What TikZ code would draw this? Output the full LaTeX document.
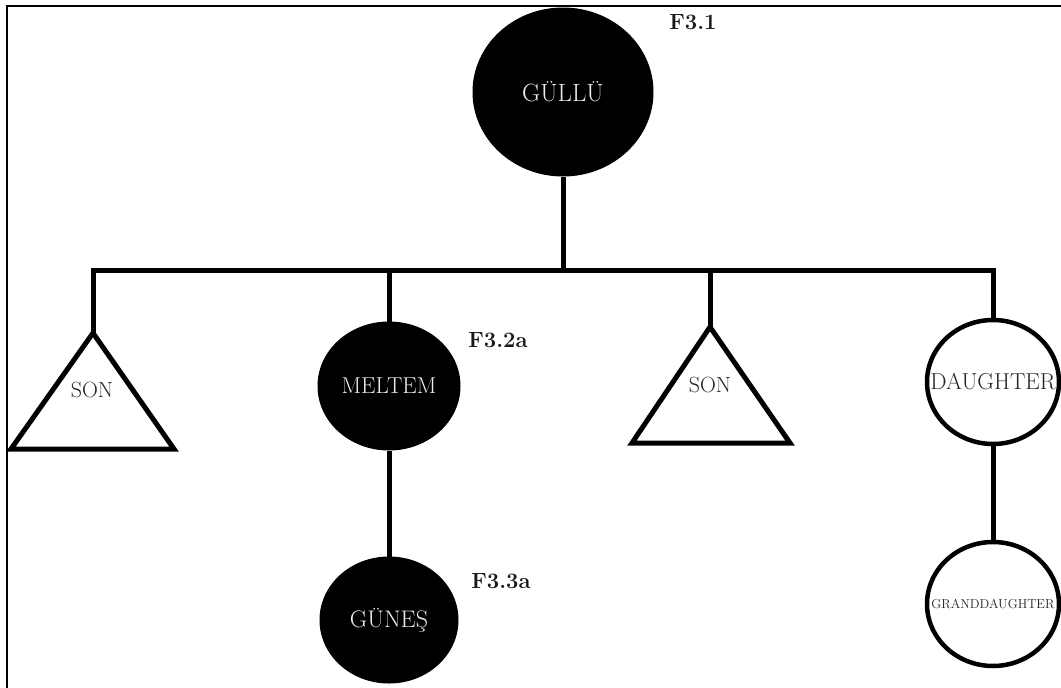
\documentclass[tikz,border=0pt]{standalone}
\usetikzlibrary{calc,shapes.geometric}
\begin{document}
\begin{tikzpicture}[x=1pt,y=-1pt,
  line width=5pt,
  filledp/.style={ellipse,fill=black,draw=black,line width=1pt,inner sep=0pt},
  openp/.style={ellipse,fill=white,draw=black,line width=4.5pt,inner sep=0pt},
  wlabel/.style={text=black!8,font=\fontsize{23}{26}\selectfont},
  blabel/.style={text=black!85,font=\fontsize{23}{26}\selectfont},
  idlabel/.style={font=\fontsize{22}{24}\selectfont\bfseries,text=black!90},
  tri/.style={line width=5pt,line join=miter}
]
\useasboundingbox (0,0) rectangle (1061,688);
% frame (left and top edges)
\draw[line width=2pt] (7,688) -- (7,6) -- (1061,6);

% nodes
\node[filledp,minimum width=180pt,minimum height=168pt] (gullu) at (563,92) {};
\node[wlabel,font=\fontsize{25}{28}\selectfont] (gullut) at (gullu.center) {GÜLLÜ};
\node[idlabel] (f31) at (693,22) {F3.1};

\node[filledp,minimum width=142pt,minimum height=128pt] (meltem) at (389,386) {};
\node[wlabel] (meltemt) at (meltem.center) {MELTEM};
\node[idlabel] (f32) at (498,340) {F3.2a};

\node[filledp,minimum width=138pt,minimum height=126pt] (gunes) at (389,620) {};
\node[wlabel,font=\fontsize{24}{27}\selectfont] (gunest) at (gunes.center) {GÜNEŞ};
\node[idlabel] (f33) at (501,581) {F3.3a};

\node[openp,minimum width=132pt,minimum height=124pt] (dau) at (993,382) {};
\node[blabel] (daut) at (dau.center) {DAUGHTER};

\node[openp,minimum width=132pt,minimum height=124pt] (gdau) at (993,604) {};
\node[blabel,font=\fontsize{13}{15}\selectfont] (gdaut) at (gdau.center) {GRANDDAUGHTER};

% triangles (sons)
\coordinate (son1) at (93,333);
\draw[tri] (son1) -- (174,449) -- (11,449) -- cycle;
\node[blabel,font=\fontsize{22}{25}\selectfont] (son1t) at (92,390) {SON};

\coordinate (son2) at (710,327);
\draw[tri] (son2) -- (790,443) -- (632,443) -- cycle;
\node[blabel,font=\fontsize{22}{25}\selectfont] (son2t) at (710,385) {SON};

% sibling bar
\coordinate (barL) at (93,270);
\coordinate (barR) at (993,270);
\draw[line cap=rect] (son1) -- (son1 |- barL) -- (barR) -- (dau.north);
\draw (gullu.south) -- (gullu.south |- barL);
\draw (meltem.north) -- (meltem.north |- barL);
\draw (son2) -- (son2 |- barL);

% descent lines
\draw (meltem.south) -- (gunes.north);
\draw (dau.south) -- (gdau.north);
\end{tikzpicture}
\end{document}
